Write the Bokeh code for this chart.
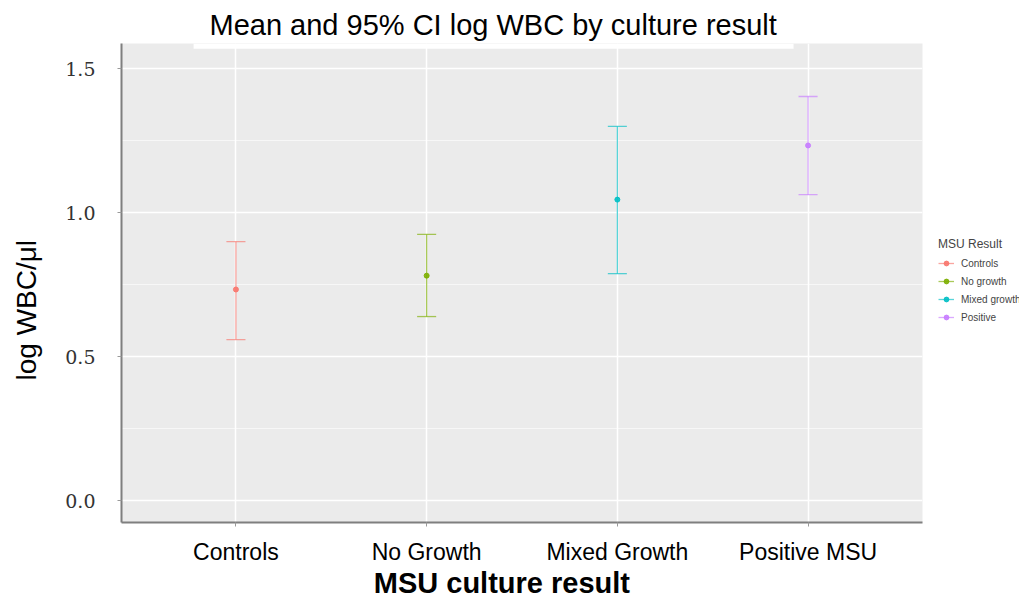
from bokeh.plotting import figure
from bokeh.models import (ColumnDataSource, FixedTicker, NumeralTickFormatter, Legend,
                          LegendItem, BoxAnnotation)
from bokeh.embed import file_html
from bokeh.resources import INLINE

# ---- data ----
categories = ["Controls", "No Growth", "Mixed Growth", "Positive MSU"]
legend_labels = ["Controls", "No growth", "Mixed growth", "Positive"]
means = [0.733, 0.781, 1.045, 1.233]
lower = [0.559, 0.639, 0.788, 1.062]
upper = [0.899, 0.924, 1.299, 1.403]
colors = ["#F8766D", "#7CAE00", "#00BFC4", "#C77CFF"]
y_ticks = [0.0, 0.5, 1.0, 1.5]
y_minor = [0.25, 0.75, 1.25]
cap_half = 0.05

xs = [i + 1 for i in range(len(categories))]
NB = "\u00a0"

p = figure(frame_width=801, frame_height=479, output_backend="svg", toolbar_location=None,
           x_range=(0.4, 4.6), y_range=(-0.076, 1.587),
           min_border_left=121, min_border_right=90, min_border_top=43,
           min_border_bottom=75)

p.title.text = "Mean and 95% CI log WBC by culture result"
p.title.align = "left"
p.title.offset = 88
p.title.text_font = "Liberation Sans"
p.title.text_font_size = "29px"
p.title.text_font_style = "normal"
p.title.text_color = "black"
p.title.standoff = 6

p.background_fill_color = "#EBEBEB"
p.border_fill_color = "white"
p.outline_line_color = None

# white strip of the title box overlapping the panel top
p.add_layout(BoxAnnotation(left=0.778, right=3.924, bottom=1.569,
                           fill_color="white", fill_alpha=1, line_color=None))

# grid
p.xgrid.grid_line_color = "white"
p.xgrid.grid_line_width = 1.5
p.ygrid.grid_line_color = "white"
p.ygrid.grid_line_width = 1.5
p.ygrid.minor_grid_line_color = "white"
p.ygrid.minor_grid_line_alpha = 0.6
p.ygrid.minor_grid_line_width = 1

# axes
p.yaxis.ticker = FixedTicker(ticks=y_ticks, minor_ticks=y_minor)
p.yaxis.formatter = NumeralTickFormatter(format="0.0")
p.xaxis.ticker = FixedTicker(ticks=xs)
p.xaxis.major_label_overrides = {x: c for x, c in zip(xs, categories)}

for ax in (p.xaxis[0], p.yaxis[0]):
    ax.axis_line_color = "#7F7F7F"
    ax.axis_line_width = 2
    ax.major_tick_line_color = "#9A9A9A"
    ax.major_tick_out = 4
    ax.major_tick_in = 0
    ax.minor_tick_line_color = None

p.yaxis.major_label_text_font = "DejaVu Serif"
p.yaxis.major_label_text_font_size = "19px"
p.yaxis.major_label_text_color = "#333333"
p.yaxis.major_label_standoff = 22
p.yaxis.axis_label = "log WBC/\u03bcl" + NB * 7
p.yaxis.axis_label_text_font = "Liberation Sans"
p.yaxis.axis_label_text_font_style = "normal"
p.yaxis.axis_label_text_font_size = "28px"
p.yaxis.axis_label_text_color = "black"
p.yaxis.axis_label_standoff = 20

p.xaxis.major_label_text_font = "Liberation Sans"
p.xaxis.major_label_text_font_size = "23px"
p.xaxis.major_label_text_color = "black"
p.xaxis.major_label_standoff = 12
p.xaxis.axis_label = "MSU culture result" + NB * 5
p.xaxis.axis_label_text_font = "Liberation Sans"
p.xaxis.axis_label_text_font_style = "bold"
p.xaxis.axis_label_text_font_size = "29px"
p.xaxis.axis_label_text_color = "black"
p.xaxis.axis_label_standoff = -1

# error bars
items = []
for x, m, lo, hi, c, lab in zip(xs, means, lower, upper, colors, legend_labels):
    src = ColumnDataSource(dict(x=[x], m=[m], lo=[lo], hi=[hi],
                                xl=[x - cap_half], xr=[x + cap_half]))
    seg = p.segment(x0="x", y0="lo", x1="x", y1="hi", source=src,
                    line_color=c, line_width=1.3, line_alpha=0.65)
    p.segment(x0="xl", y0="hi", x1="xr", y1="hi", source=src,
              line_color=c, line_width=1.3, line_alpha=0.65)
    p.segment(x0="xl", y0="lo", x1="xr", y1="lo", source=src,
              line_color=c, line_width=1.3, line_alpha=0.65)
    pt = p.scatter(x="x", y="m", source=src, size=5, fill_color=c,
                   line_color=c, alpha=0.9)
    items.append(LegendItem(label=lab, renderers=[seg, pt]))

legend = Legend(items=items, location=(16, 199))
legend.title = "MSU Result"
legend.title_text_font = "Liberation Sans"
legend.title_text_font_size = "12px"
legend.title_text_font_style = "normal"
legend.title_standoff = 6
legend.label_text_font = "Liberation Sans"
legend.label_text_font_size = "10px"
legend.glyph_width = 16
legend.glyph_height = 12
legend.label_height = 12
legend.label_standoff = 7
legend.spacing = 6
legend.padding = 4
legend.margin = 0
legend.border_line_color = None
legend.background_fill_alpha = 0
p.add_layout(legend, "right")

open("out.html", "w").write(file_html(p, INLINE))
